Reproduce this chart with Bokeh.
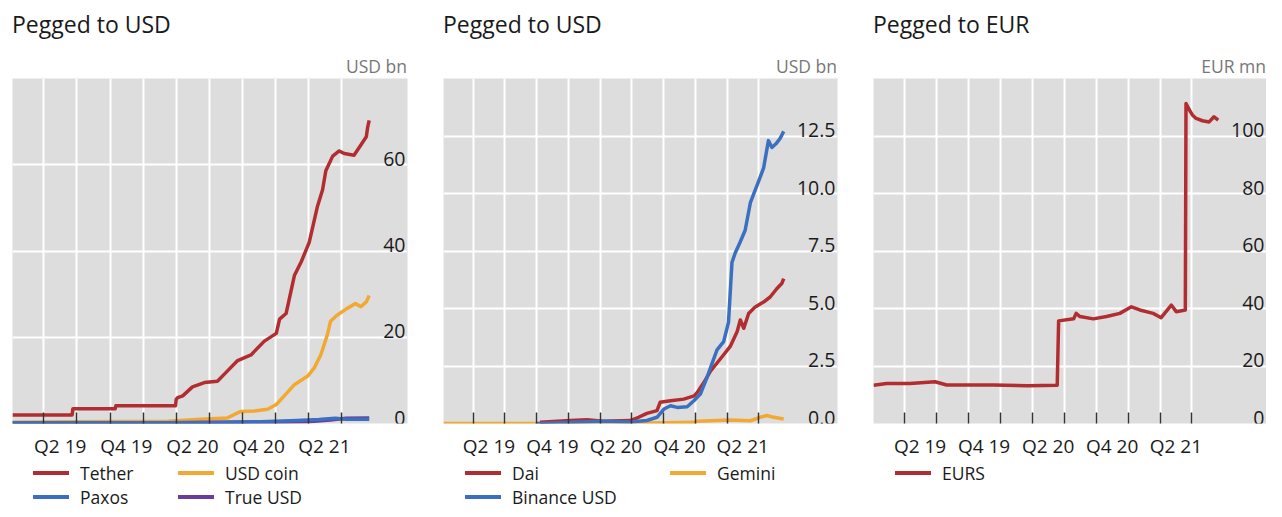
import pandas as pd
from bokeh.plotting import figure
from bokeh.models import FixedTicker, ColumnDataSource, Range1d, Div
from bokeh.layouts import row, column
from bokeh.embed import file_html
from bokeh.resources import INLINE
from bokeh.core.properties import value

FONT = "Open Sans"
BG = "#dddddd"
INK = "#1a1a1a"
RED = "#b22d30"
ORANGE = "#f2a933"
BLUE = "#3a70bf"
PURPLE = "#6a3d9a"

# ---------------- shared axis data ----------------
quarter_starts = ["2019-04-01", "2019-07-01", "2019-10-01", "2020-01-01", "2020-04-01",
                  "2020-07-01", "2020-10-01", "2021-01-01", "2021-04-01", "2021-07-01"]
label_dates = ["2019-05-16", "2019-11-15", "2020-05-16", "2020-11-15", "2021-05-16"]
x_tick_labels = ["Q2 19", "Q4 19", "Q2 20", "Q4 20", "Q2 21"]

# ---------------- panel 1 ----------------
p1_title = "Pegged to USD"
p1_unit = "USD bn"
p1_yticks = [0, 20, 40, 60]
p1_ylabels = ["0", "20", "40", "60"]

tether_dates = ["2019-01-04", "2019-06-18", "2019-06-20", "2019-10-15", "2019-10-17", "2020-03-30",
                "2020-04-01", "2020-04-05", "2020-04-19", "2020-05-16", "2020-06-18", "2020-07-24",
                "2020-08-21", "2020-09-18", "2020-10-25", "2020-12-01", "2021-01-03", "2021-01-12",
                "2021-01-30", "2021-02-22", "2021-03-13", "2021-04-04", "2021-04-27", "2021-05-11",
                "2021-05-20", "2021-06-08", "2021-06-26", "2021-07-10", "2021-08-06", "2021-08-25",
                "2021-09-09", "2021-09-13", "2021-09-17"]
tether_vals = [2.0, 2.0, 3.4, 3.4, 4.1, 4.1,
               5.6, 6.0, 6.4, 8.5, 9.5, 9.8,
               12.2, 14.6, 15.9, 19.1, 20.9, 24.2,
               25.5, 34.3, 37.5, 42.0, 50.4, 54.2,
               58.6, 62.0, 63.2, 62.6, 62.2, 64.6,
               66.5, 68.8, 70.3]

usdc_dates = ["2019-01-04", "2019-06-01", "2020-03-09", "2020-06-09", "2020-08-21", "2020-09-09",
              "2020-09-27", "2020-11-03", "2020-12-10", "2021-01-03", "2021-01-25", "2021-02-22",
              "2021-03-31", "2021-04-18", "2021-05-06", "2021-05-24", "2021-06-02", "2021-06-20",
              "2021-07-18", "2021-08-10", "2021-08-25", "2021-09-09", "2021-09-17"]
usdc_vals = [0.3, 0.4, 0.5, 1.0, 1.3, 2.1,
             2.8, 2.9, 3.3, 4.4, 6.4, 9.0,
             11.0, 12.9, 15.9, 20.5, 23.7, 25.1,
             26.7, 27.8, 27.1, 28.2, 29.7]

paxos_dates = ["2019-01-04", "2019-07-01", "2020-01-01", "2020-07-01", "2020-10-01", "2021-01-01",
               "2021-03-01", "2021-05-01", "2021-06-15", "2021-07-15", "2021-09-17"]
paxos_vals = [0.2, 0.2, 0.15, 0.2, 0.3, 0.5, 0.7, 0.9, 1.2, 1.0, 1.0]

tusd_dates = ["2019-01-04", "2019-07-01", "2020-01-01", "2020-07-01", "2020-10-01", "2021-01-01",
              "2021-04-01", "2021-06-01", "2021-07-15", "2021-09-17"]
tusd_vals = [0.2, 0.15, 0.12, 0.3, 0.35, 0.3, 0.4, 0.8, 1.2, 1.3]

# ---------------- panel 2 ----------------
p2_title = "Pegged to USD"
p2_unit = "USD bn"
p2_yticks = [0, 2.5, 5.0, 7.5, 10.0, 12.5]
p2_ylabels = ["0.0", "2.5", "5.0", "7.5", "10.0", "12.5"]

dai_dates = ["2019-10-10", "2020-01-05", "2020-02-22", "2020-04-10", "2020-06-26", "2020-07-20",
             "2020-08-13", "2020-09-11", "2020-09-20", "2020-10-20", "2020-11-27", "2020-12-27",
             "2021-01-05", "2021-01-24", "2021-02-12", "2021-03-03", "2021-03-22", "2021-04-10",
             "2021-04-30", "2021-05-09", "2021-05-19", "2021-06-02", "2021-06-21", "2021-07-15",
             "2021-08-03", "2021-08-22", "2021-09-06", "2021-09-11"]
dai_vals = [0.05, 0.13, 0.16, 0.10, 0.13, 0.27,
            0.44, 0.56, 0.92, 0.99, 1.06, 1.20,
            1.35, 1.78, 2.28, 2.63, 2.99, 3.35,
            4.0, 4.5, 4.14, 4.78, 5.07, 5.28,
            5.5, 5.86, 6.1, 6.3]

busd_dates = ["2019-10-01", "2020-04-10", "2020-06-26", "2020-08-13", "2020-09-11", "2020-10-01",
              "2020-10-20", "2020-11-08", "2020-12-07", "2020-12-27", "2021-01-14", "2021-02-02",
              "2021-02-17", "2021-03-03", "2021-03-22", "2021-04-05", "2021-04-15", "2021-04-24",
              "2021-05-09", "2021-05-23", "2021-06-07", "2021-07-05", "2021-07-15", "2021-07-29",
              "2021-08-08", "2021-08-22", "2021-09-01", "2021-09-11"]
busd_vals = [0.0, 0.10, 0.07, 0.13, 0.27, 0.63,
             0.77, 0.70, 0.73, 1.0, 1.28, 2.0,
             2.63, 3.2, 3.56, 4.4, 7.0, 7.4,
             7.9, 8.4, 9.6, 10.7, 11.1, 12.3,
             12.0, 12.2, 12.4, 12.7]

gemini_dates = ["2019-01-05", "2020-06-01", "2020-12-27", "2021-01-05", "2021-04-10", "2021-06-07",
                "2021-07-05", "2021-07-25", "2021-08-10", "2021-09-11"]
gemini_vals = [0.0, 0.0, 0.05, 0.10, 0.15, 0.12, 0.27, 0.35, 0.28, 0.20]

# ---------------- panel 3 ----------------
p3_title = "Pegged to EUR"
p3_unit = "EUR mn"
p3_yticks = [0, 20, 40, 60, 80, 100]
p3_ylabels = ["0", "20", "40", "60", "80", "100"]

eurs_dates = ["2019-01-03", "2019-02-10", "2019-04-17", "2019-06-28", "2019-07-31", "2019-12-12",
              "2020-03-18", "2020-06-11", "2020-06-15", "2020-07-28", "2020-08-04", "2020-08-15",
              "2020-09-22", "2020-10-30", "2020-12-07", "2021-01-09", "2021-02-02", "2021-03-12",
              "2021-04-04", "2021-05-03", "2021-05-17", "2021-06-12", "2021-06-14", "2021-06-24",
              "2021-07-03", "2021-07-13", "2021-07-31", "2021-08-19", "2021-09-02", "2021-09-14"]
eurs_vals = [13.3, 13.9, 13.9, 14.5, 13.4, 13.4,
             13.1, 13.3, 35.7, 36.4, 38.3, 37.2,
             36.4, 37.2, 38.3, 40.6, 39.5, 38.3,
             36.8, 41.2, 38.9, 39.5, 111.3, 109.0,
             107.2, 106.1, 105.3, 104.9, 106.7, 105.5]


def ms(dates):
    return [int(pd.Timestamp(d).value // 10**6) for d in dates]


HEAD_H = 78
FRAME_H = 348
AXIS_H = 35
LEG_H = 48
ROW_H = 24


def head_div(width, bl, br, title, unit):
    html = (
        f'<div style="position:relative;width:{width}px;height:{HEAD_H}px;'
        f'font-family:\'{FONT}\';">'
        f'<div style="position:absolute;left:{bl}px;top:9px;font-size:23px;'
        f'line-height:31px;color:{INK};white-space:nowrap;">{title}</div>'
        f'<div style="position:absolute;right:{br}px;top:54px;font-size:17.5px;'
        f'line-height:24px;color:#777777;white-space:nowrap;">{unit}</div>'
        f'</div>')
    return Div(text=html, width=width, height=HEAD_H, margin=0)


def legend_div(width, bl, entries):
    parts = [f'<div style="position:relative;width:{width}px;height:{LEG_H}px;'
             f'font-family:\'{FONT}\';overflow:hidden;">']
    for name, color, lx, rowi in entries:
        top = rowi * ROW_H
        parts.append(
            f'<div style="position:absolute;left:{bl + lx}px;top:{top}px;height:{ROW_H}px;'
            f'display:flex;align-items:center;white-space:nowrap;">'
            f'<span style="display:inline-block;width:36px;height:3.5px;'
            f'background:{color};margin-right:11px;"></span>'
            f'<span style="font-size:17.5px;line-height:{ROW_H}px;color:{INK};">{name}</span>'
            f'</div>')
    parts.append('</div>')
    return Div(text="".join(parts), width=width, height=LEG_H, margin=0)


def make_fig(width, bl, br, xstart, xend, ymax, yticks, ylabels, series):
    p = figure(width=width, height=FRAME_H + AXIS_H, x_axis_type="datetime",
               output_backend="svg", toolbar_location=None,
               x_range=Range1d(ms([xstart])[0], ms([xend])[0]),
               y_range=Range1d(0, ymax),
               min_border_left=bl, min_border_right=br,
               min_border_top=0, min_border_bottom=AXIS_H,
               y_axis_location=None)
    p.background_fill_color = BG
    p.border_fill_color = "white"
    p.outline_line_color = None

    qs = ms(quarter_starts)
    lab = ms(label_dates)
    ax = p.xaxis[0]
    ax.ticker = FixedTicker(ticks=lab, minor_ticks=qs)
    ax.major_label_overrides = {k: t for k, t in zip(lab, x_tick_labels)}
    ax.major_tick_in = 0
    ax.major_tick_out = 0
    ax.minor_tick_in = 11
    ax.minor_tick_out = 0
    ax.minor_tick_line_color = "#333333"
    ax.minor_tick_line_width = 1.5
    ax.axis_line_color = None
    ax.major_label_text_font = FONT
    ax.major_label_text_font_size = "19px"
    ax.major_label_text_color = INK
    ax.major_label_standoff = 9

    p.xgrid.ticker = FixedTicker(ticks=qs)
    p.xgrid.grid_line_color = "white"
    p.xgrid.grid_line_width = 2
    p.ygrid.ticker = FixedTicker(ticks=yticks)
    p.ygrid.grid_line_color = "white"
    p.ygrid.grid_line_width = 2

    for name, d, v, c in series:
        p.line(ms(d), v, line_color=c, line_width=3.5, line_join="round")

    ysrc = ColumnDataSource(dict(x=[ms([xend])[0]] * len(yticks), y=yticks, t=ylabels))
    p.text(x="x", y="y", text="t", source=ysrc, text_align="right",
           text_baseline="alphabetic", x_offset=-2, y_offset=-6,
           text_font=value(FONT), text_font_size="19.5px", text_color=INK)
    return p


W1, W2, W3 = 438, 430, 398

p1 = make_fig(W1, 12, 31, "2019-01-04", "2022-01-01", 80, p1_yticks, p1_ylabels,
              [("Tether", tether_dates, tether_vals, RED),
               ("USD coin", usdc_dates, usdc_vals, ORANGE),
               ("True USD", tusd_dates, tusd_vals, PURPLE),
               ("Paxos", paxos_dates, paxos_vals, BLUE)])
c1 = column(head_div(W1, 12, 31, p1_title, p1_unit), p1,
            legend_div(W1, 12, [("Tether", RED, 21, 0), ("USD coin", ORANGE, 166, 0),
                                ("Paxos", BLUE, 21, 1), ("True USD", PURPLE, 166, 1)]))

p2 = make_fig(W2, 5, 31, "2019-01-05", "2022-02-13", 15, p2_yticks, p2_ylabels,
              [("Gemini", gemini_dates, gemini_vals, ORANGE),
               ("Dai", dai_dates, dai_vals, RED),
               ("Binance USD", busd_dates, busd_vals, BLUE)])
c2 = column(head_div(W2, 5, 31, p2_title, p2_unit), p2,
            legend_div(W2, 5, [("Dai", RED, 22, 0), ("Gemini", ORANGE, 227, 0),
                               ("Binance USD", BLUE, 22, 1)]))

p3 = make_fig(W3, 5, 0, "2019-01-03", "2022-01-30", 120, p3_yticks, p3_ylabels,
              [("EURS", eurs_dates, eurs_vals, RED)])
c3 = column(head_div(W3, 5, 0, p3_title, p3_unit), p3,
            legend_div(W3, 5, [("EURS", RED, 22, 0)]))

layout = row(c1, c2, c3)
open("out.html", "w").write(file_html(layout, INLINE))
